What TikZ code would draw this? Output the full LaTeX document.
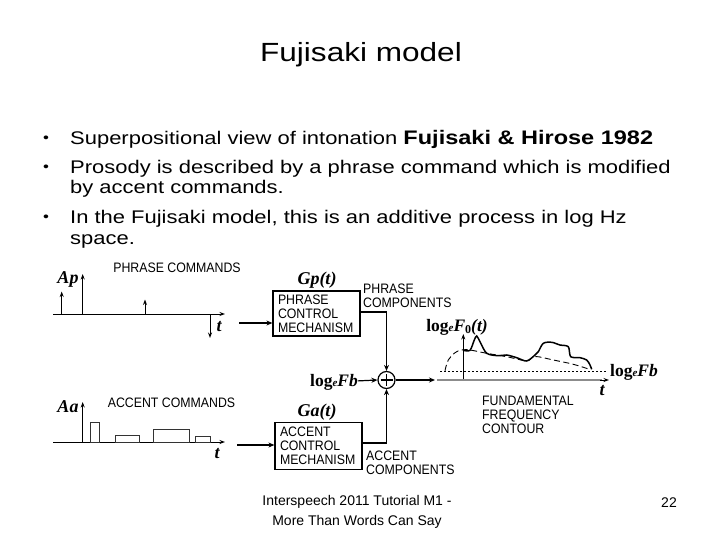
\documentclass[tikz,border=0pt]{standalone}
\usepackage{fontspec}
\setmainfont{Liberation Sans}
\newfontfamily\slidefont[FakeStretch=1.2]{Liberation Sans}
\newfontfamily\diafont[FakeStretch=0.9]{Liberation Sans}
\newfontfamily\tms{Liberation Serif}
\usetikzlibrary{arrows.meta}
\newcommand{\lge}{{\bfseries log}{\bfseries\itshape\fontsize{11}{11}\selectfont e}}
\tikzset{
  lbl/.style={font=\diafont\fontsize{13.7}{14}\selectfont, inner sep=0pt, align=left},
  mlbl/.style={font=\tms\bfseries\itshape\fontsize{18}{18}\selectfont, inner sep=0pt},
  cbox/.style={draw, line width=1.2pt, inner xsep=5pt, inner ysep=0pt, align=left,
    font=\diafont\fontsize{13.7}{14}\selectfont, text width=77pt},
  ax/.style={line width=1pt, -{Stealth[length=5.5pt,width=4pt]}},
  arr/.style={line width=1.2pt, -{Stealth[length=6pt,width=5pt]}},
  slide/.style={font=\slidefont\fontsize{18.3}{20}\selectfont, inner sep=0pt, anchor=base west},
  bul/.style={font=\slidefont\fontsize{14}{16}\selectfont, inner sep=0pt, anchor=base},
  pulse/.style={line width=0.9pt, draw=black!80},
}
\begin{document}
\begin{tikzpicture}[x=1pt,y=-1pt]
\useasboundingbox[fill=white] (0,0) rectangle (720,540);

% title
\node[anchor=base, inner sep=0pt, font=\slidefont\fontsize{26.3}{30}\selectfont] (title) at (361,62) {Fujisaki model};

% bullets
\node[bul] (b1) at (46,143) {•};
\node[slide] (l1) at (70,145) {Superpositional view of intonation {\bfseries\fontsize{19.6}{20}\selectfont Fujisaki \& Hirose 1982}};
\node[bul] (b2) at (46,171.5) {•};
\node[slide] (l2) at (70,173.5) {Prosody is described by a phrase command which is modified};
\node[slide] (l3) at (70,194) {by accent commands.};
\node[bul] (b3) at (46,221.5) {•};
\node[slide] (l4) at (70,223.5) {In the Fujisaki model, this is an additive process in log Hz};
\node[slide] (l5) at (70,244) {space.};

% ---- phrase commands panel
\node[mlbl] (ap) at (68,279) {Ap};
\node[lbl] (pc) at (177,268) {PHRASE COMMANDS};
\draw[ax] (53,314) -- (225,314);
\draw[ax] (82.7,314) -- (82.7,274);
\draw[ax] (61.7,314) -- (61.7,291.5);
\draw[ax] (145,314) -- (145,299.5);
\draw[ax] (210,314) -- (210,338);
\node[mlbl] (t1) at (219,327) {t};

% ---- accent commands panel
\node[mlbl] (aa) at (68,407) {Aa};
\node[lbl] (ac) at (171.5,403) {ACCENT COMMANDS};
\draw[ax] (53,442) -- (225,442);
\draw[ax] (82.7,442) -- (82.7,402);
\draw[pulse] (90,442) rectangle (99.3,422.7);
\draw[pulse] (115,442) rectangle (139,435);
\draw[pulse] (153.5,442) rectangle (189,429);
\draw[pulse] (195,442) rectangle (210.7,436.7);
\node[mlbl] (t2) at (217,454) {t};

% ---- control boxes
\node[cbox, minimum height=45pt] (pbox) at (316.5,313.5) {PHRASE\\CONTROL\\MECHANISM};
\node[cbox, minimum height=47pt] (abox) at (318.5,446) {ACCENT\\CONTROL\\MECHANISM};
\node[mlbl] (gp) at (317,280) {Gp(t)};
\node[mlbl] (ga) at (317,412) {Ga(t)};
\coordinate (pin) at (239,323);
\coordinate (ain) at (237,445);
\draw[arr] (pin) -- (pin -| pbox.west);
\draw[arr] (ain) -- (ain -| abox.west);
\node[lbl, anchor=north west] (pcomp) at (363,284) {PHRASE\\COMPONENTS};
\node[lbl, anchor=north west] (acomp) at (366,451) {ACCENT\\COMPONENTS};

% ---- summation
\node[draw, circle, line width=1.2pt, minimum size=17pt, inner sep=0pt] (plus) at (386.5,380) {};
\draw[line width=1.2pt] ([yshift=6pt]plus.center) -- ([yshift=-6pt]plus.center);
\draw[line width=1.2pt] ([xshift=-6pt]plus.center) -- ([xshift=6pt]plus.center);
\draw[arr] ([yshift=1.5pt]pbox.east) -| (plus.north);
\draw[arr] ([yshift=3pt]abox.east) -| (plus.south);
\node[anchor=east, inner sep=0pt, font=\tms\fontsize{17.5}{17.5}\selectfont] (fb1) at (358,382) {\lge\textbf{\itshape Fb}};
\draw[arr] (fb1) -- (plus.west);
\coordinate (f0in) at (435,380);
\draw[arr] (plus.east) -- (f0in);

% ---- F0 contour panel
\draw[draw=black!45, line width=2.8pt] (437,380) -- (602,380);
\draw[ax] (600,380) -- (609,380);
\draw[ax] (463.3,379) -- (463.3,334);
\draw[dash pattern=on 2pt off 2pt, line width=0.7pt] (440,371) -- (607,371);
\draw[dash pattern=on 6pt off 3.5pt, line width=0.9pt] plot[smooth, tension=0.6] coordinates {
  (445,370.7) (448.3,360) (455,352.7) (461.7,350) (470,350) (486.7,353.3)
  (506.7,356.7) (526.7,360.7) (535,356.5) (553.3,360) (573.3,364.3) (590,369.5)};
\draw[line width=1.5pt] plot[smooth, tension=0.5] coordinates {
  (463.3,350.3) (470,350.3) (474.3,340) (476.7,336) (480,341.7) (486.7,353.3)
  (498.3,355.7) (506.7,355) (516.7,357.7) (526.7,361) (535,355) (538.3,351.7)
  (543.3,343.3) (551.7,342.3) (560,345) (568.3,346.7) (570.7,356.7) (580,357.7)
  (586.7,360) (590,365) (591.7,369.3)};
\node[inner sep=0pt, font=\tms\fontsize{17.5}{17.5}\selectfont] (f0lbl) at (457,327) {\lge\textbf{\itshape F}\textbf{\raisebox{-2pt}{\fontsize{12}{12}\selectfont 0}}\textbf{\itshape(t)}};
\node[anchor=west, inner sep=0pt, font=\tms\fontsize{17.5}{17.5}\selectfont] (fb2) at (610,372) {\lge\textbf{\itshape Fb}};
\node[mlbl] (t3) at (602,391) {t};
\node[lbl, anchor=north west] (fcont) at (482,396) {FUNDAMENTAL\\FREQUENCY\\CONTOUR};

% ---- footer
\node[inner sep=0pt, align=center, font=\fontsize{14}{20}\selectfont] (foot) at (357,512) {Interspeech 2011 Tutorial M1 -\\More Than Words Can Say};
\node[inner sep=0pt, font=\fontsize{14}{16}\selectfont] (pg) at (669,503) {22};
\end{tikzpicture}
\end{document}
